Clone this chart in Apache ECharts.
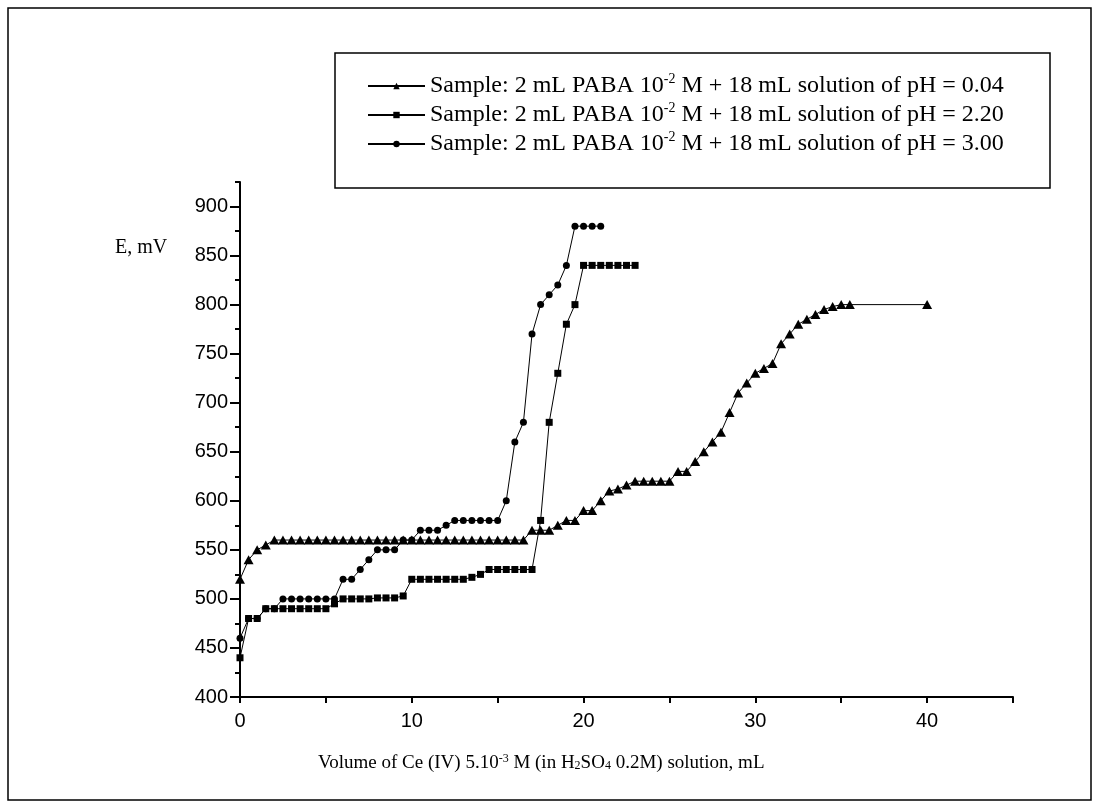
<!DOCTYPE html>
<html>
<head>
    <meta charset="UTF-8">
    <title>index.html</title>
    <script src="https://cdn.jsdelivr.net/npm/echarts@6/dist/echarts.min.js"></script>
</head>
<body style="margin:0;background:#fff;">
<div id="chart" style="width:1098px;height:809px;"></div>
<script>
    // pH = 0.04 (triangles)
    var xTri = [0, 0.5, 1, 1.5, 2, 2.5, 3, 3.5, 4, 4.5, 5, 5.5, 6, 6.5, 7, 7.5, 8, 8.5, 9, 9.5,
        10, 10.5, 11, 11.5, 12, 12.5, 13, 13.5, 14, 14.5, 15, 15.5, 16, 16.5, 17, 17.5, 18, 18.5, 19, 19.5,
        20, 20.5, 21, 21.5, 22, 22.5, 23, 23.5, 24, 24.5, 25, 25.5, 26, 26.5, 27, 27.5, 28, 28.5, 29, 29.5,
        30, 30.5, 31, 31.5, 32, 32.5, 33, 33.5, 34, 34.5, 35, 35.5, 40];
    var yTri = [520, 540, 550, 555, 560, 560, 560, 560, 560, 560, 560, 560, 560, 560, 560, 560, 560, 560, 560, 560,
        560, 560, 560, 560, 560, 560, 560, 560, 560, 560, 560, 560, 560, 560, 570, 570, 570, 575, 580, 580,
        590, 590, 600, 610, 612, 616, 620, 620, 620, 620, 620, 630, 630, 640, 650, 660, 670, 690, 710, 720,
        730, 735, 740, 760, 770, 780, 785, 790, 795, 798, 800, 800, 800];
    // pH = 2.20 (squares)
    var xSq = [0, 0.5, 1, 1.5, 2, 2.5, 3, 3.5, 4, 4.5, 5, 5.5, 6, 6.5, 7, 7.5, 8, 8.5, 9, 9.5,
        10, 10.5, 11, 11.5, 12, 12.5, 13, 13.5, 14, 14.5, 15, 15.5, 16, 16.5, 17, 17.5, 18, 18.5, 19, 19.5,
        20, 20.5, 21, 21.5, 22, 22.5, 23];
    var ySq = [440, 480, 480, 490, 490, 490, 490, 490, 490, 490, 490, 495, 500, 500, 500, 500, 501, 501, 501, 503,
        520, 520, 520, 520, 520, 520, 520, 522, 525, 530, 530, 530, 530, 530, 530, 580, 680, 730, 780, 800,
        840, 840, 840, 840, 840, 840, 840];
    // pH = 3.00 (circles)
    var xCir = [0, 0.5, 1, 1.5, 2, 2.5, 3, 3.5, 4, 4.5, 5, 5.5, 6, 6.5, 7, 7.5, 8, 8.5, 9, 9.5,
        10, 10.5, 11, 11.5, 12, 12.5, 13, 13.5, 14, 14.5, 15, 15.5, 16, 16.5, 17, 17.5, 18, 18.5, 19, 19.5,
        20, 20.5, 21];
    var yCir = [460, 480, 480, 490, 490, 500, 500, 500, 500, 500, 500, 500, 520, 520, 530, 540, 550, 550, 550, 560,
        560, 570, 570, 570, 575, 580, 580, 580, 580, 580, 580, 600, 660, 680, 770, 800, 810, 820, 840, 880,
        880, 880, 880];

    var seriesNames = ['pH = 0.04', 'pH = 2.20', 'pH = 3.00'];
    var xLabelValues = [0, 10, 20, 30, 40];
    var yLabelValues = [400, 450, 500, 550, 600, 650, 700, 750, 800, 850, 900];

    function pairs(xs, ys) {
        var out = [];
        for (var i = 0; i < xs.length; i++) out.push([xs[i], ys[i]]);
        return out;
    }

    var serif = '"Liberation Serif", "Times New Roman", serif';
    var sans = '"Liberation Sans", Arial, sans-serif';
    var legendRich = {
        sup: {fontFamily: serif, fontSize: 14, color: '#000', verticalAlign: 'bottom', padding: [0, 0, 10, 0]}
    };
    var titleRich = {
        sup: {fontFamily: serif, fontSize: 12, color: '#000', verticalAlign: 'bottom', padding: [0, 0, 9, 0]},
        sub: {fontFamily: serif, fontSize: 12, color: '#000', verticalAlign: 'top', padding: [7, 0, 0, 0]}
    };

    function makeLine(name, data, symbol, size) {
        return {
            name: name,
            type: 'line',
            data: data,
            symbol: symbol,
            symbolSize: size,
            showAllSymbol: true,
            lineStyle: {color: '#000', width: 1},
            itemStyle: {color: '#000'},
            z: 3
        };
    }

    var chart = echarts.init(document.getElementById('chart'));
    chart.setOption({
        animation: false,
        backgroundColor: '#fff',
        grid: {left: 240, right: 85, top: 182, bottom: 112},
        legend: {
            orient: 'vertical',
            left: 367,
            top: 72,
            padding: 0,
            itemWidth: 57,
            itemHeight: 8,
            itemGap: 3,
            data: seriesNames,
            textStyle: {fontFamily: serif, fontSize: 24, color: '#000', lineHeight: 20, rich: legendRich},
            formatter: function (name) {
                return 'Sample: 2 mL PABA 10{sup|-2} M + 18 mL solution of ' + name;
            }
        },
        xAxis: {
            type: 'value',
            min: 0,
            max: 45,
            interval: 5,
            axisLine: {lineStyle: {color: '#000', width: 2}},
            axisTick: {length: 6, lineStyle: {color: '#000', width: 2}},
            axisLabel: {customValues: xLabelValues, margin: 14, fontFamily: sans, fontSize: 20, color: '#000'},
            splitLine: {show: false}
        },
        yAxis: [{
            type: 'value',
            min: 400,
            max: 925,
            interval: 25,
            axisLine: {show: true, lineStyle: {color: '#000', width: 2}},
            axisTick: {length: 5, lineStyle: {color: '#000', width: 2}},
            axisLabel: {show: false},
            splitLine: {show: false}
        }, {
            type: 'value',
            min: 400,
            max: 925,
            interval: 50,
            position: 'left',
            axisLine: {show: false},
            axisTick: {show: true, customValues: yLabelValues, length: 10, lineStyle: {color: '#000', width: 2}},
            axisLabel: {customValues: yLabelValues, margin: 12, fontFamily: sans, fontSize: 20, color: '#000'},
            splitLine: {show: false}
        }],
        series: [
            makeLine(seriesNames[0], pairs(xTri, yTri), 'triangle', [10, 9]),
            makeLine(seriesNames[1], pairs(xSq, ySq), 'rect', 7),
            makeLine(seriesNames[2], pairs(xCir, yCir), 'circle', 7)
        ],
        graphic: [
            {type: 'rect', shape: {x: 8, y: 8, width: 1083, height: 792}, style: {fill: null, stroke: '#000', lineWidth: 1.5}, silent: true},
            {type: 'rect', shape: {x: 335, y: 53, width: 715, height: 135}, style: {fill: null, stroke: '#000', lineWidth: 1.5}, silent: true},
            {type: 'text', left: 115, top: 238, style: {text: 'E, mV', font: '20px ' + serif, fill: '#000'}},
            {
                type: 'text', left: 318, top: 753,
                style: {
                    text: 'Volume of Ce (IV) 5.10{sup|-3} M (in H{sub|2}SO{sub|4} 0.2M) solution, mL',
                    font: '19px ' + serif, fill: '#000', rich: titleRich
                }
            }
        ]
    });
</script>
</body>
</html>
